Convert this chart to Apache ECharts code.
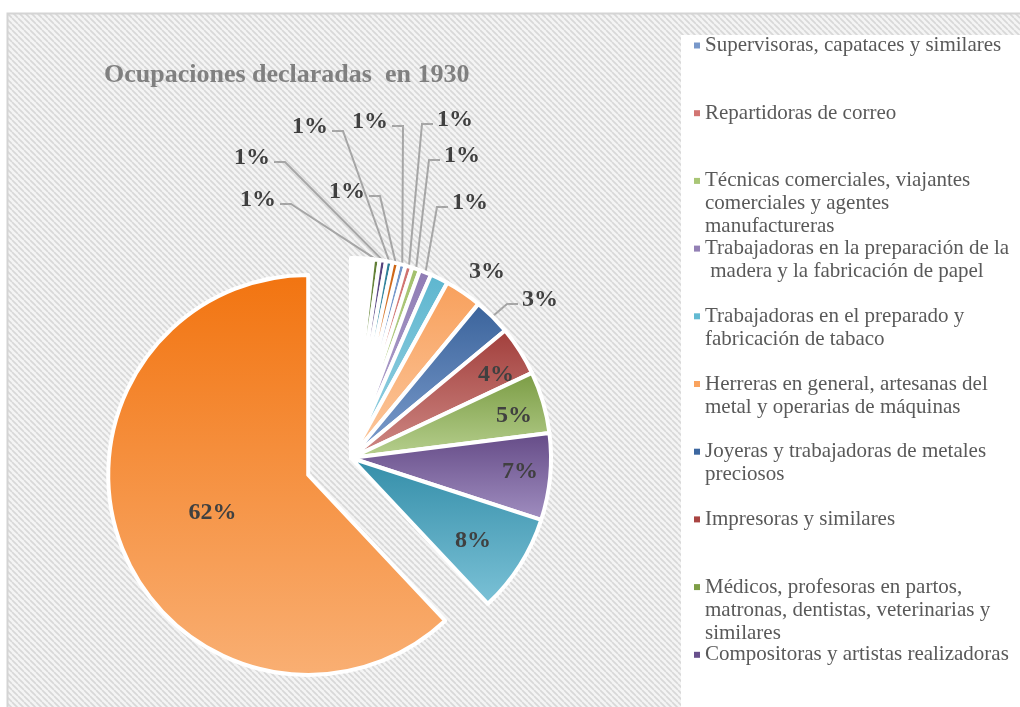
<!DOCTYPE html>
<html>
<head>
<meta charset="utf-8">
<title>Ocupaciones declaradas en 1930</title>
<script src="https://cdn.jsdelivr.net/npm/echarts@6/dist/echarts.min.js"></script>
<style>
  html, body { margin: 0; padding: 0; background: #fff; }
  #chart { width: 1020px; height: 707px; }
</style>
</head>
<body>
<div id="chart"></div>
<script>
// ocupaciones, en el orden de la leyenda (las ultimas no caben en la leyenda)
var ocupaciones = [
    'Supervisoras, capataces y similares',
    'Repartidoras de correo',
    'Técnicas comerciales, viajantes comerciales y agentes manufactureras',
    'Trabajadoras en la preparación de la madera y la fabricación de papel',
    'Trabajadoras en el preparado y fabricación de tabaco',
    'Herreras en general, artesanas del metal y operarias de máquinas',
    'Joyeras y trabajadoras de metales preciosos',
    'Impresoras y similares',
    'Médicos, profesoras en partos, matronas, dentistas, veterinarias y similares',
    'Compositoras y artistas realizadoras',
    '(categoría 11)',
    '(categoría 12)',
    '(categoría 13)',
    '(categoría 14)',
    '(categoría 15)',
    '(categoría 16)',
    '(categoría 17)'
];
// porcentaje de cada ocupacion
var porcentajes = [0.55, 0.55, 0.65, 0.95, 1.45, 3, 3, 4, 5, 7, 8, 62, 1.77, 0.52, 0.52, 0.52, 0.52];
var enLeyenda = 10;
// renglones que ocupa cada texto de la leyenda
var renglones = [1, 1, 3, 2, 2, 2, 2, 1, 3, 1];

// colores: degradado [arriba, abajo] de cada porcion y color del cuadrito de la leyenda
var colores = [
    ['#6F93C8', '#A6BEE0'], ['#CF6F6C', '#E6ADAB'], ['#A2C06B', '#CADDA9'],
    ['#8E7BB4', '#BCAFD4'], ['#5DB6CF', '#9DD3E3'], ['#F8A05C', '#FCC9A0'],
    ['#3A639B', '#7F9FCF'], ['#A13E3B', '#D08B87'], ['#7A9B43', '#B8D190'],
    ['#644A86', '#A18FC1'], ['#338DA8', '#7CC2D7'], ['#F27410', '#F9AF73'],
    ['#FFFFFF', '#FFFFFF'], ['#5F7C33', '#A5C27A'], ['#53407A', '#9C8BC0'],
    ['#2A7C95', '#86C5D8'], ['#CC6210', '#F5B27C']
];
var coloresLeyenda = ['#7898CA', '#D27572', '#A9C676', '#9380B5', '#63BAD2',
    '#F9A35F', '#3D67A0', '#A94442', '#7E9E46', '#68508C'];

// donde va cada etiqueta (centro del texto) y si lleva linea guia
var etiquetas = [
    [370, 122, 'line'], [455, 120, 'line'], [462, 156, 'line'], [470, 203, 'line'],
    null,
    [487, 272, 'out'], [540, 300, 'line'],
    [496, 375, 'in'], [514, 416, 'in'], [520, 472, 'in'], [473, 541, 'in'], [232, 520, 'in'],
    null,
    [258, 200, 'line'], [252, 158, 'line'], [310, 127, 'line'], [347, 192, 'line']
];

var total = porcentajes.reduce(function (a, b) { return a + b; }, 0);
var mayor = porcentajes.indexOf(Math.max.apply(null, porcentajes));
// la porcion mayor termina justo a las 12
var despues = porcentajes.slice(mayor + 1).reduce(function (a, b) { return a + b; }, 0);
var inicio = 90 - despues / total * 360;

var RENGLON = 23;
var ALTO = 3 * RENGLON;   // cada entrada de la leyenda ocupa 3 renglones

function rayado() {
    var s = 6, cv = document.createElement('canvas');
    cv.width = s; cv.height = s;
    var g = cv.getContext('2d');
    g.fillStyle = '#f4f4f4';
    g.fillRect(0, 0, s, s);
    g.strokeStyle = '#d8d8d8';
    g.lineWidth = 1.7;
    for (var k = -1; k <= 1; k++) {
        g.beginPath();
        g.moveTo(k * s, 0);
        g.lineTo(k * s + s, s);
        g.stroke();
    }
    return cv;
}

// cuadrito de 6px a la altura del primer renglon
var cuadrito = 'path://M0,0M0,' + ALTO + 'M0,' + (RENGLON / 2 - 3) + 'h6v6h-6z';

var datos = ocupaciones.map(function (nombre, i) {
    var e = etiquetas[i];
    var item = {
        name: nombre,
        value: porcentajes[i],
        itemStyle: {
            color: {
                type: 'linear', x: 0, y: 0, x2: 0, y2: 1,
                colorStops: [{ offset: 0, color: colores[i][0] }, { offset: 1, color: colores[i][1] }]
            }
        }
    };
    if (!e) {
        item.label = { show: false };
        item.labelLine = { show: false };
    } else {
        item.label = { position: e[2] === 'in' ? 'inside' : 'outside' };
        item.labelLine = { show: e[2] === 'line' };
    }
    if (i === mayor) item.selected = true;
    return item;
});

var datosLeyenda = ocupaciones.slice(0, enLeyenda).map(function (n, i) {
    return { name: n, itemStyle: { color: coloresLeyenda[i] } };
});

var myChart = echarts.init(document.querySelector('#chart'));

option = {
    animation: false,
    title: {
        text: 'Ocupaciones declaradas  en 1930',
        left: 99,
        top: 57,
        textStyle: {
            fontFamily: 'Liberation Serif',
            fontWeight: 'bold',
            fontSize: 26,
            color: '#808080'
        }
    },
    graphic: [
        {
            type: 'rect', z: -10, silent: true,
            shape: { x: 7.5, y: 13.5, width: 1040, height: 720 },
            style: { fill: { image: rayado(), repeat: 'repeat' }, stroke: '#d4d4d4', lineWidth: 2 }
        },
        {
            type: 'rect', z: -9, silent: true,
            shape: { x: 681, y: 35, width: 400, height: 700 },
            style: { fill: '#ffffff' }
        }
    ],
    legend: {
        orient: 'vertical',
        left: 694,
        top: 34,
        height: 2000,
        padding: 0,
        icon: cuadrito,
        itemWidth: 6,
        itemHeight: ALTO,
        itemGap: 67.7 - ALTO,
        itemStyle: { borderWidth: 0 },
        selectedMode: false,
        data: datosLeyenda,
        // se completa con renglones en blanco para que todas midan 3 renglones
        formatter: function (n) {
            var i = ocupaciones.indexOf(n);
            var txt = n;
            for (var k = renglones[i]; k < 3; k++) txt += '\n\u00a0';
            return txt;
        },
        textStyle: {
            fontFamily: 'Liberation Serif',
            fontSize: 21,
            color: '#595959',
            lineHeight: RENGLON,
            width: 318,
            overflow: 'break'
        }
    },
    series: [{
        type: 'pie',
        center: [351, 458],
        radius: 200,
        startAngle: inicio,
        clockwise: true,
        selectedMode: 'single',
        selectedOffset: 46,
        avoidLabelOverlap: false,
        emphasis: { disabled: true },
        itemStyle: { borderColor: '#ffffff', borderWidth: 4 },
        label: {
            fontFamily: 'Liberation Serif',
            fontWeight: 'bold',
            fontSize: 24,
            color: '#404040',
            formatter: function (p) {
                return Math.round(p.value / total * 100) + '%';
            }
        },
        labelLine: {
            length: 10,
            length2: 10,
            lineStyle: { color: '#A6A6A6', width: 2 }
        },
        labelLayout: function (p) {
            var e = etiquetas[p.dataIndex];
            if (!e) return {};
            var res = { x: e[0], y: e[1], align: 'center', verticalAlign: 'middle' };
            var pts = p.labelLinePoints;
            if (e[2] === 'line' && pts) {
                var w = p.labelRect.width;
                var ly = e[1] + 4;
                var fin, codo;
                if (e[0] < pts[0][0]) {
                    fin = e[0] + w / 2 + 4;
                    codo = fin + 11;
                } else {
                    fin = e[0] - w / 2 - 4;
                    codo = fin - 11;
                }
                res.labelLinePoints = [pts[0], [codo, ly], [fin, ly]];
            }
            return res;
        },
        data: datos
    }]
};

myChart.setOption(option);
</script>
</body>
</html>
